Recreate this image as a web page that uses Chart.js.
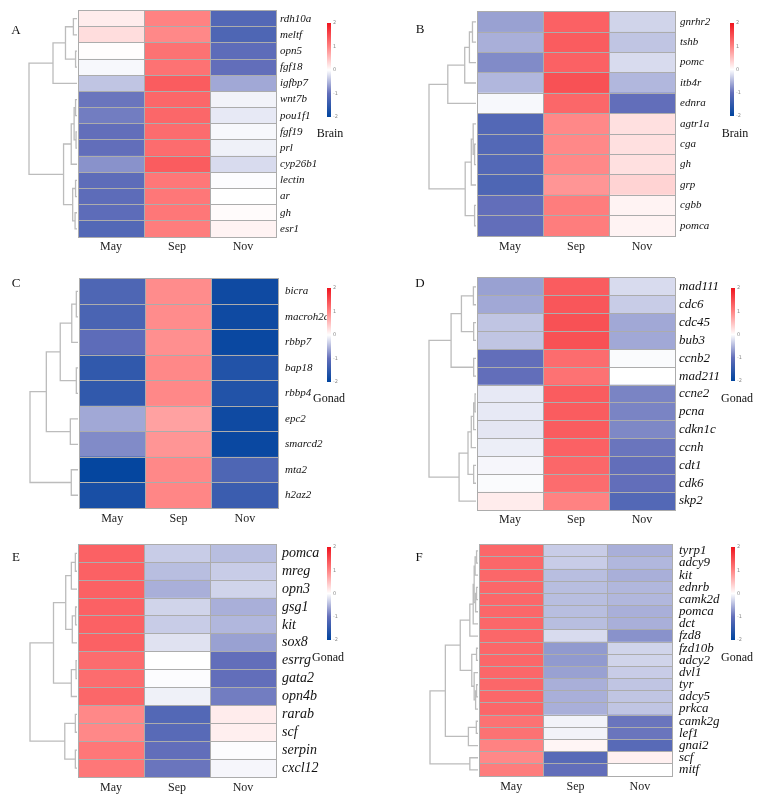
<!DOCTYPE html>
<html><head><meta charset="utf-8">
<script src="https://cdn.jsdelivr.net/npm/chart.js@4/dist/chart.umd.min.js"></script>
<style>
body{margin:0;background:#fff;}
#wrap{position:relative;width:767px;height:805px;overflow:hidden;background:#fff;}
#wrap canvas{position:absolute;}
</style></head>
<body><div id="wrap"></div>
<script>
const months = ['May','Sep','Nov'];
const scaleTicks = [2,1,0,-1,-2];

// ---- Panel A (Brain)
const genesA = ['rdh10a','meltf','opn5','fgf18','igfbp7','wnt7b','pou1f1','fgf19','prl','cyp26b1','lectin','ar','gh','esr1'];
const mayA = [0.15,0.27,0.02,-0.05,-0.4,-0.95,-0.9,-1.0,-1.0,-0.75,-1.05,-1.05,-1.05,-1.15];
const sepA = [1.0,0.95,1.15,1.15,1.35,1.25,1.25,1.2,1.2,1.35,1.1,1.1,1.1,1.05];
const novA = [-1.15,-1.2,-1.05,-1.0,-0.6,-0.08,-0.15,-0.05,-0.1,-0.25,-0.02,0,0.03,0.1];
const treeA = [[0,1,0.075],[2,3,0.03],[14,15,0.24],[16,4,0.5],[5,6,0.03],[7,8,0.02],[18,19,0.06],[20,9,0.12],[10,11,0.03],[12,13,0.04],[22,23,0.09],[21,24,0.28],[17,25,1.0]];

// ---- Panel B (Brain)
const genesB = ['gnrhr2','tshb','pomc','itb4r','ednra','agtr1a','cga','gh','grp','cgbb','pomca'];
const mayB = [-0.65,-0.55,-0.8,-0.5,-0.05,-1.15,-1.15,-1.15,-1.2,-1.0,-1.0];
const sepB = [1.3,1.35,1.3,1.45,1.25,0.95,0.95,0.95,0.85,1.05,1.05];
const novB = [-0.3,-0.4,-0.25,-0.5,-1.0,0.25,0.25,0.25,0.35,0.1,0.1];
const treeB = [[0,1,0.075],[11,2,0.14],[12,3,0.24],[13,4,0.6],[6,7,0.03],[5,15,0.06],[16,8,0.1],[9,10,0.03],[17,18,0.23],[14,19,1.0]];

// ---- Panel C (Gonad)
const genesC = ['bicra','macroh2a','rbbp7','bap18','rbbp4','epc2','smarcd2','mta2','h2az2'];
const mayC = [-1.2,-1.25,-1.05,-1.5,-1.5,-0.6,-0.8,-1.95,-1.75];
const sepC = [0.92,0.92,0.9,0.95,0.95,0.75,0.85,0.95,0.97];
const novC = [-1.85,-1.85,-1.9,-1.65,-1.65,-1.85,-1.9,-1.2,-1.4];
const treeC = [[0,1,0.035],[9,2,0.13],[3,4,0.035],[10,11,0.37],[5,6,0.16],[12,13,0.66],[7,8,0.14],[14,15,1.0]];

// ---- Panel D (Gonad)
const genesD = ['mad111','cdc6','cdc45','bub3','ccnb2','mad211','ccne2','pcna','cdkn1c','ccnh','cdt1','cdk6','skp2'];
const mayD = [-0.65,-0.6,-0.4,-0.4,-1.0,-1.0,-0.15,-0.15,-0.17,-0.12,-0.06,-0.03,0.15];
const sepD = [1.35,1.4,1.45,1.45,1.2,1.15,1.35,1.35,1.35,1.3,1.25,1.2,1.0];
const novD = [-0.25,-0.35,-0.6,-0.6,-0.03,0.0,-0.85,-0.85,-0.82,-0.95,-1.0,-1.0,-1.15];
const treeD = [[0,1,0.055],[2,3,0.05],[13,14,0.31],[4,5,0.05],[15,16,0.53],[6,7,0.02],[18,8,0.05],[19,9,0.1],[10,11,0.05],[20,21,0.17],[22,12,0.36],[17,23,1.0]];

// ---- Panel E (Gonad)
const genesE = ['pomca','mreg','opn3','gsg1','kit','sox8','esrrg','gata2','opn4b','rarab','scf','serpin','cxcl12'];
const mayE = [1.3,1.3,1.3,1.3,1.3,1.3,1.2,1.2,1.25,0.95,0.95,1.1,1.1];
const sepE = [-0.35,-0.45,-0.55,-0.3,-0.35,-0.2,0,-0.02,-0.1,-1.15,-1.1,-1.0,-0.95];
const novE = [-0.45,-0.35,-0.3,-0.55,-0.5,-0.65,-1.0,-1.0,-0.9,0.15,0.13,-0.02,-0.06];
const treeE = [[0,1,0.035],[13,2,0.12],[3,4,0.03],[15,5,0.1],[14,16,0.24],[6,7,0.02],[18,8,0.12],[17,19,0.5],[9,10,0.035],[11,12,0.035],[21,22,0.26],[20,23,1.0]];

// ---- Panel F (Gonad)
const genesF = ['tyrp1','adcy9','kit','ednrb','camk2d','pomca','dct','fzd8','fzd10b','adcy2','dvl1','tyr','adcy5','prkca','camk2g','lef1','gnai2','scf','mitf'];
const mayF = [1.25,1.25,1.25,1.25,1.25,1.25,1.25,1.25,1.25,1.25,1.25,1.25,1.25,1.25,1.15,1.15,1.0,0.95,1.05];
const sepF = [-0.35,-0.35,-0.45,-0.45,-0.45,-0.45,-0.45,-0.25,-0.7,-0.7,-0.65,-0.55,-0.55,-0.55,-0.08,-0.08,0.08,-1.1,-1.0];
const novF = [-0.55,-0.5,-0.55,-0.5,-0.5,-0.55,-0.55,-0.75,-0.3,-0.3,-0.35,-0.4,-0.4,-0.4,-0.95,-0.95,-1.1,0.12,0.0];
const treeF = [[0,1,0.03],[19,2,0.06],[3,4,0.03],[21,5,0.05],[20,22,0.08],[23,6,0.1],[24,7,0.17],[8,9,0.03],[11,12,0.03],[27,13,0.05],[10,28,0.08],[26,29,0.13],[25,30,0.37],[14,15,0.035],[32,16,0.2],[31,33,0.68],[17,18,0.17],[34,35,1.0]];

// ---- colour map
const cstops = [[-2,[0,68,158]],[-1,[98,110,186]],[0,[255,255,255]],[1,[255,130,130]],[2,[240,20,30]]];
function heat(v){
  v = Math.max(-2, Math.min(2, v));
  for (let i=0;i<cstops.length-1;i++){
    const [a,ca]=cstops[i],[b,cb]=cstops[i+1];
    if (v<=b){ const t=(v-a)/(b-a); const c=ca.map((x,k)=>Math.round(x+(cb[k]-x)*t)); return `rgb(${c[0]},${c[1]},${c[2]})`; }
  }
  return 'rgb(240,20,30)';
}

const SERIF = '"Liberation Serif","Times New Roman",serif';
const panels = [
 {letter:'A',genes:genesA,vals:[mayA,sepA,novA],tree:treeA,tissue:'Brain',box:[0,0,383,265],heat:[78,10,276,237],pad:4,fs:11,xpad:3,cb:[327,23,117],tl:[330,134],lp:[16,31],root:29},
 {letter:'B',genes:genesB,vals:[mayB,sepB,novB],tree:treeB,tissue:'Brain',box:[383,0,384,265],heat:[94,10,292,236],pad:5,fs:11,xpad:4,cb:[347,23,116],tl:[352,134],lp:[37,30],root:46},
 {letter:'C',genes:genesC,vals:[mayC,sepC,novC],tree:treeC,tissue:'Gonad',box:[0,265,383,265],heat:[79,13,278,243],pad:7,fs:11,xpad:4,cb:[327,23,117],tl:[329,134],lp:[16,19],root:30},
 {letter:'D',genes:genesD,vals:[mayD,sepD,novD],tree:treeD,tissue:'Gonad',box:[383,265,384,265],heat:[94,13,292,245],pad:4,fs:13,xpad:3,cb:[348,23,116],tl:[354,134],lp:[37,19],root:46},
 {letter:'E',genes:genesE,vals:[mayE,sepE,novE],tree:treeE,tissue:'Gonad',box:[0,530,383,275],heat:[78,14,276,247],pad:6,fs:14,xpad:4,cb:[327,17,110],tl:[328,128],lp:[16,28],root:30},
 {letter:'F',genes:genesF,vals:[mayF,sepF,novF],tree:treeF,tissue:'Gonad',box:[383,530,384,275],heat:[96,14,289,246],pad:7,fs:13,xpad:4,cb:[348,17,110],tl:[354,128],lp:[36,28],root:47}
];

const deco = {
  id:'deco',
  afterDraw(chart, args, o){
    const P = o.panel, ctx = chart.ctx, ca = chart.chartArea, ys = chart.scales.y;
    ctx.save();
    // dendrogram
    const right = ca.left - 1, W = right - P.root;
    const pos = P.genes.map((g,i)=>[right, ys.getPixelForValue(i)]);
    ctx.strokeStyle = '#bcbcbc'; ctx.lineWidth = 1.3; ctx.beginPath();
    P.tree.forEach(([a,b,h])=>{
      const x = right - h*W, [xa,ya] = pos[a], [xb,yb] = pos[b];
      ctx.moveTo(xa,ya); ctx.lineTo(x,ya); ctx.lineTo(x,yb); ctx.lineTo(xb,yb);
      pos.push([x,(ya+yb)/2]);
    });
    ctx.stroke();
    // colour bar
    const [cx,cy0,cy1] = P.cb;
    const g = ctx.createLinearGradient(0,cy0,0,cy1);
    cstops.forEach(([v])=>g.addColorStop((2-v)/4, heat(v)));
    ctx.fillStyle = g; ctx.fillRect(cx,cy0,4,cy1-cy0);
    ctx.fillStyle = '#8a8a8a'; ctx.font = '5px "DejaVu Sans",sans-serif'; ctx.textAlign='left'; ctx.textBaseline='middle';
    scaleTicks.forEach(v=>ctx.fillText(String(v), cx+6, cy0 + (2-v)/4*(cy1-cy0)));
    // tissue label
    ctx.fillStyle = '#111'; ctx.font = '12px '+SERIF; ctx.textAlign='center';
    ctx.fillText(P.tissue, P.tl[0], P.tl[1]);
    // panel letter
    ctx.font = '13px '+SERIF; ctx.fillText(P.letter, P.lp[0], P.lp[1]);
    ctx.restore();
  }
};

const wrap = document.getElementById('wrap');
const YW = 60, XH = 24;
panels.forEach(P=>{
  const [bx,by,bw,bh] = P.box;
  const cv = document.createElement('canvas');
  cv.width = bw; cv.height = bh; cv.style.left = bx+'px'; cv.style.top = by+'px';
  cv.style.width = bw+'px'; cv.style.height = bh+'px';
  wrap.appendChild(cv);
  const [hl,ht,hr,hb] = P.heat;
  const datasets = months.map((m,j)=>({
    label:m,
    data: P.genes.map((gname,i)=>({x:[j,j+1], y:gname, v:P.vals[j][i]})),
    backgroundColor: c => heat(c.raw ? c.raw.v : 0),
    borderWidth:0, barPercentage:1, categoryPercentage:1, grouped:false
  }));
  new Chart(cv, {
    type:'bar',
    data:{labels:P.genes, datasets},
    options:{
      indexAxis:'y', responsive:false, animation:false, devicePixelRatio:1,
      layout:{padding:{left:hl, top:ht, right:bw-hr-YW, bottom:bh-hb-XH}},
      plugins:{legend:{display:false}, tooltip:{enabled:false}, deco:{panel:P}},
      scales:{
        x:{type:'linear', min:0, max:3, position:'bottom',
           ticks:{display:false, stepSize:1},
           grid:{color:'#acacac', lineWidth:1, drawTicks:false, z:1},
           border:{display:true, color:'#acacac', z:1},
           afterFit:s=>{s.height=0;}},
        xc:{type:'category', labels:months, position:'bottom', offset:true,
           grid:{display:false, drawTicks:false}, border:{display:false},
           ticks:{font:{family:SERIF, size:12}, color:'#222', padding:P.xpad},
           afterFit:s=>{s.height=XH;}},
        y:{type:'category', position:'right', offset:true,
           grid:{color:'#acacac', lineWidth:1, offset:true, drawTicks:false, z:1},
           border:{display:true, color:'#acacac', z:1},
           ticks:{font:{family:SERIF, size:P.fs, style:'italic'}, color:'#111', padding:P.pad, autoSkip:false},
           afterFit:s=>{s.width=YW;}}
      }
    },
    plugins:[deco]
  });
});
</script>
</body></html>
